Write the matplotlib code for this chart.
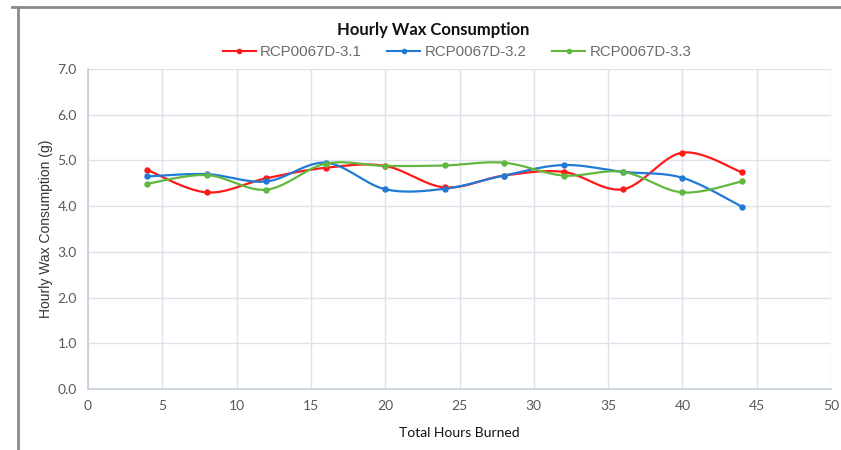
import numpy as np
import matplotlib
matplotlib.use("Agg")
import matplotlib.pyplot as plt
from matplotlib.lines import Line2D

hours = [4, 8, 12, 16, 20, 24, 28, 32, 36, 40, 44]
series_names = ["RCP0067D-3.1", "RCP0067D-3.2", "RCP0067D-3.3"]
s31 = [4.79, 4.30, 4.61, 4.84, 4.88, 4.41, 4.67, 4.75, 4.37, 5.17, 4.74]
s32 = [4.65, 4.70, 4.54, 4.95, 4.37, 4.38, 4.67, 4.90, 4.75, 4.62, 3.99]
s33 = [4.49, 4.68, 4.36, 4.93, 4.88, 4.89, 4.95, 4.67, 4.75, 4.30, 4.54]
colors = ["#FF1A1A", "#1F7AD6", "#62B83F"]
x_ticks = list(range(0, 55, 5))
y_ticks = [0.0, 1.0, 2.0, 3.0, 4.0, 5.0, 6.0, 7.0]


def smooth(x, y, n=30):
    x = np.asarray(x, float)
    y = np.asarray(y, float)
    xs, ys = [], []
    m = len(x)
    for i in range(m - 1):
        p0 = np.array([x[max(i - 1, 0)], y[max(i - 1, 0)]])
        p1 = np.array([x[i], y[i]])
        p2 = np.array([x[i + 1], y[i + 1]])
        p3 = np.array([x[min(i + 2, m - 1)], y[min(i + 2, m - 1)]])
        c1 = p1 + (p2 - p0) / 6.0
        c2 = p2 - (p3 - p1) / 6.0
        t = np.linspace(0, 1, n)[:, None]
        pts = ((1 - t) ** 3) * p1 + 3 * ((1 - t) ** 2) * t * c1 + 3 * (1 - t) * t ** 2 * c2 + t ** 3 * p2
        xs.extend(pts[:, 0])
        ys.extend(pts[:, 1])
    return xs, ys


fig = plt.figure(figsize=(8.41, 4.5), dpi=100)
ax = fig.add_axes([88 / 841, 1 - 389 / 450, (831 - 88) / 841, (389 - 69) / 450])

for vals, c, name in zip([s31, s32, s33], colors, series_names):
    sx, sy = smooth(hours, vals)
    ax.plot(sx, sy, color=c, lw=1.6, zorder=3)
    ax.plot(hours, vals, 'o', color=c, ms=3.6, zorder=4)

ax.set_xlim(0, 50)
ax.set_ylim(0, 7)
ax.set_xticks(x_ticks)
ax.set_yticks(y_ticks)
ax.set_yticklabels([f"{v:.1f}" for v in y_ticks])
ax.grid(True, color="#DDE2EA", lw=1)
ax.set_axisbelow(True)
for s in ["top", "right"]:
    ax.spines[s].set_visible(False)
for s in ["left", "bottom"]:
    ax.spines[s].set_color("#C5CEDB")
    ax.spines[s].set_linewidth(1.2)
ax.tick_params(length=0, labelsize=10, colors="#595959", pad=8)
for lab in ax.get_xticklabels() + ax.get_yticklabels():
    lab.set_fontfamily("Lato")

ax.set_xlabel("Total Hours Burned", fontsize=10, fontfamily="Lato", color="#111111", labelpad=11)
ax.set_ylabel("Hourly Wax Consumption (g)", fontsize=10, fontfamily="Liberation Sans", color="#333333", labelpad=3)

fig.text(433 / 841, 1 - 30 / 450, "Hourly Wax Consumption", ha="center", va="center",
         fontsize=12, fontweight="bold", fontfamily="Lato", color="#111111")

handles = [Line2D([0], [0], color=c, lw=1.5, marker='o', ms=3) for c in colors]
leg = fig.legend(handles, series_names, loc="center", bbox_to_anchor=(457 / 841, 1 - 52 / 450),
                 ncol=3, frameon=False, prop={"family": "Liberation Sans", "size": 10.8},
                 handlelength=2.2, handletextpad=0.3, columnspacing=1.7)
for t in leg.get_texts():
    t.set_color("#6B6B6B")

fig.add_artist(Line2D([12 / 841, 1.0], [1 - 7 / 450, 1 - 7 / 450], transform=fig.transFigure,
                      color="#8A8A8A", lw=2))
fig.add_artist(Line2D([18 / 841, 18 / 841], [1 - 7 / 450, 0], transform=fig.transFigure,
                      color="#8A8A8A", lw=2))

fig.savefig("out.png", dpi=100)
